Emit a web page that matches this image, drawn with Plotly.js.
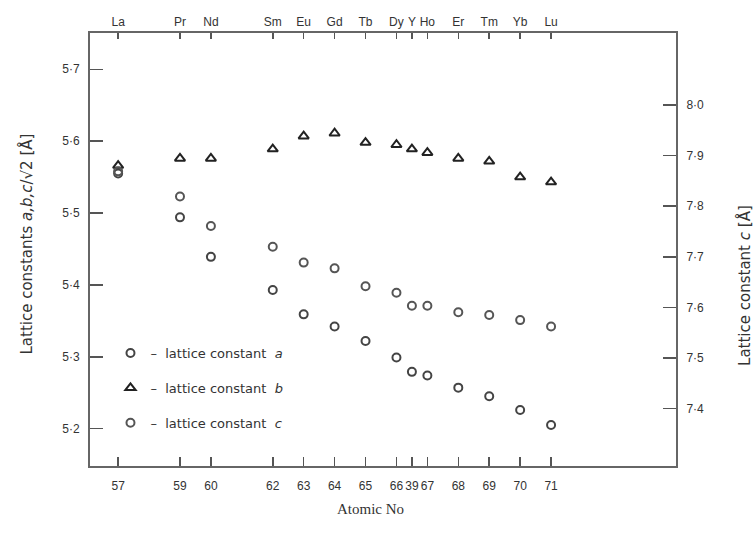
<!DOCTYPE html>
<html>
<head>
<meta charset="utf-8">
<script src="https://cdn.plot.ly/plotly-3.0.1.min.js"></script>
<style>html,body{margin:0;padding:0;background:#fff;}#chart{width:755px;height:547px;}</style>
</head>
<body>
<div id="chart"></div>
<script>
// Atomic number positions (Y placed between Dy and Ho)
const atomicPos = [57, 59, 60, 62, 63, 64, 65, 66, 66.5, 67, 68, 69, 70, 71];
const atomicNoLabels = ['57', '59', '60', '62', '63', '64', '65', '66', '39', '67', '68', '69', '70', '71'];
const elements = ['La', 'Pr', 'Nd', 'Sm', 'Eu', 'Gd', 'Tb', 'Dy', 'Y', 'Ho', 'Er', 'Tm', 'Yb', 'Lu'];

// Lattice constants [Å]
const latticeA = [5.555, 5.494, 5.439, 5.393, 5.359, 5.342, 5.322, 5.299, 5.279, 5.274, 5.257, 5.245, 5.226, 5.205];
const latticeB = [5.566, 5.576, 5.576, 5.589, 5.607, 5.611, 5.598, 5.595, 5.589, 5.584, 5.576, 5.572, 5.550, 5.543];
const latticeCOverRt2 = [5.558, 5.523, 5.482, 5.453, 5.431, 5.423, 5.398, 5.389, 5.371, 5.371, 5.362, 5.358, 5.351, 5.342];

// Tick labels
const leftTickVals = [5.2, 5.3, 5.4, 5.5, 5.6, 5.7];
const leftTickText = ['5·2', '5·3', '5·4', '5·5', '5·6', '5·7'];
const rightTickVals = [7.4, 7.5, 7.6, 7.7, 7.8, 7.9, 8.0];
const rightTickText = ['7·4', '7·5', '7·6', '7·7', '7·8', '7·9', '8·0'];

const L = 89.5, R = 676, T = 33, B = 466;
const px = x => (x - L) / (R - L);
const py = y => (B - y) / (B - T);

const tickFont = {family: 'Liberation Sans, Arial, sans-serif', size: 12, color: '#333'};
const legFont = {family: 'DejaVu Sans, sans-serif', size: 13, color: '#333'};
const titleFont = {family: 'DejaVu Sans, sans-serif', size: 15, color: '#333'};

const traces = [
  {x: atomicPos, y: latticeA, type: 'scatter', mode: 'markers', name: '–  lattice constant  <i>a</i>',
   legendgroup: 'a', marker: {symbol: 'circle-open', size: 8, color: '#444', line: {width: 2, color: '#444'}}},
  {x: atomicPos, y: latticeB, type: 'scatter', mode: 'markers', name: '–  lattice constant  <i>b</i>',
   legendgroup: 'b', marker: {symbol: 'triangle-up-open', size: 9, color: '#222', line: {width: 2, color: '#222'}}},
  {x: atomicPos, y: latticeCOverRt2, type: 'scatter', mode: 'markers', name: '–  lattice constant  <i>c</i>',
   legendgroup: 'c', marker: {symbol: 'circle-open', size: 8, color: '#555', line: {width: 2, color: '#555'}}},
  {x: [], y: [], xaxis: 'x2', yaxis: 'y', type: 'scatter', mode: 'markers', showlegend: false, hoverinfo: 'skip'},
  {x: [], y: [], xaxis: 'x', yaxis: 'y2', type: 'scatter', mode: 'markers', showlegend: false, hoverinfo: 'skip'}
];

const xr = [56.09, 75.04];
const layout = {
  width: 755, height: 547,
  margin: {l: L, r: 755 - R, t: T, b: 547 - B, pad: 0},
  paper_bgcolor: '#fff', plot_bgcolor: '#fff',
  showlegend: true,
  legend: {x: px(110), y: py(338), xanchor: 'left', yanchor: 'top', bgcolor: 'rgba(0,0,0,0)',
           font: legFont, traceorder: 'grouped', tracegroupgap: 15},
  xaxis: {range: xr, tickvals: atomicPos, ticktext: atomicNoLabels, ticks: 'inside', ticklen: 9, tickangle: 0,
          tickwidth: 1.5, tickcolor: '#555', showline: true, linecolor: '#666', linewidth: 2,
          showgrid: false, zeroline: false, tickfont: tickFont, ticklabelstandoff: 8},
  xaxis2: {range: xr, overlaying: 'x', side: 'top', anchor: 'y', tickvals: atomicPos, ticktext: elements, tickangle: 0,
           ticks: 'inside', ticklen: 6, tickwidth: 1.5, tickcolor: '#555', showline: true, linecolor: '#666',
           linewidth: 2, showgrid: false, zeroline: false, tickfont: tickFont},
  yaxis: {range: [5.148, 5.7505], tickvals: leftTickVals, ticktext: leftTickText, ticks: 'inside', ticklen: 13,
          tickwidth: 1.5, tickcolor: '#555', showline: true, linecolor: '#666', linewidth: 2,
          showgrid: false, zeroline: false, tickfont: tickFont, ticklabelstandoff: 6},
  yaxis2: {range: [7.2864, 8.1424], overlaying: 'y', side: 'right', anchor: 'x', tickvals: rightTickVals,
           ticktext: rightTickText, ticks: 'inside', ticklen: 13, tickwidth: 1.5, tickcolor: '#555',
           showline: true, linecolor: '#666', linewidth: 2, showgrid: false, zeroline: false,
           tickfont: tickFont, ticklabelstandoff: 6},
  annotations: [
    {xref: 'paper', yref: 'paper', x: px(25), y: py(244), xanchor: 'center', yanchor: 'middle',
     text: 'Lattice constants <i>a,b,c</i>/√2 [Å]', textangle: -90, showarrow: false, font: titleFont},
    {xref: 'paper', yref: 'paper', x: px(744), y: py(285), xanchor: 'center', yanchor: 'middle',
     text: 'Lattice constant <i>c</i> [Å]', textangle: -90, showarrow: false, font: titleFont},
    {xref: 'paper', yref: 'paper', x: px(370), y: py(509), xanchor: 'center', yanchor: 'middle',
     text: 'Atomic No', showarrow: false,
     font: {family: 'Liberation Serif, Times New Roman, serif', size: 15, color: '#333'}}
  ]
};

Plotly.newPlot('chart', traces, layout, {displayModeBar: false, staticPlot: true});
</script>
</body>
</html>
